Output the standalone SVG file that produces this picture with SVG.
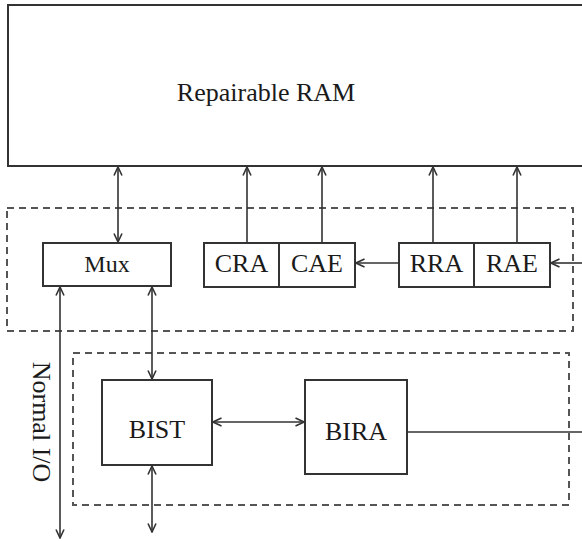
<svg xmlns="http://www.w3.org/2000/svg" width="582" height="541" viewBox="0 0 582 541">
<style>
.box{fill:#fff;stroke:#333;stroke-width:2}
.dash{fill:none;stroke:#555;stroke-width:2;stroke-dasharray:7,5}
.ln{fill:none;stroke:#333;stroke-width:1.6}
.t{font-family:"Liberation Serif","Times New Roman",serif;fill:#1a1a1a;text-anchor:middle}
</style>
<defs>
<marker id="ah" viewBox="0 0 10 10" refX="9.5" refY="5" markerWidth="10" markerHeight="10" markerUnits="userSpaceOnUse" orient="auto-start-reverse">
<path d="M1,1 L9.5,5 L1,9" fill="none" stroke="#333" stroke-width="1.6"/>
</marker>
</defs>
<g id="ram">
<rect class="box" x="8" y="5" width="590" height="161"/>
<text class="t" x="266" y="101" font-size="26">Repairable RAM</text>
</g>
<g id="outer-frame"><rect class="dash" x="7" y="208" width="566" height="123"/></g>
<g id="inner-frame"><rect class="dash" x="73" y="353" width="496" height="152"/></g>
<g id="mux">
<rect class="box" x="43" y="243" width="128" height="43"/>
<text class="t" x="107" y="272" font-size="24">Mux</text>
</g>
<g id="cra">
<rect class="box" x="204" y="243" width="75" height="44"/>
<text class="t" x="241.5" y="272" font-size="26">CRA</text>
</g>
<g id="cae">
<rect class="box" x="279" y="243" width="76" height="44"/>
<text class="t" x="317" y="272" font-size="26">CAE</text>
</g>
<g id="rra">
<rect class="box" x="399" y="243" width="75" height="44"/>
<text class="t" x="436.5" y="272" font-size="26">RRA</text>
</g>
<g id="rae">
<rect class="box" x="474" y="243" width="76" height="44"/>
<text class="t" x="512" y="272" font-size="26">RAE</text>
</g>
<g id="bist">
<rect class="box" x="102" y="380" width="110" height="85"/>
<text class="t" x="157" y="438" font-size="26">BIST</text>
</g>
<g id="bira">
<rect class="box" x="305" y="380" width="102" height="94"/>
<text class="t" x="356" y="440" font-size="26">BIRA</text>
</g>
<g id="normal-io-label">
<text class="t" transform="translate(33,422) rotate(90)" font-size="26">Normal I/O</text>
</g>
<g id="connectors">
<line class="ln" x1="118" y1="167" x2="118" y2="242" marker-start="url(#ah)" marker-end="url(#ah)"/>
<line class="ln" x1="247" y1="243" x2="247" y2="167" marker-end="url(#ah)"/>
<line class="ln" x1="322" y1="243" x2="322" y2="167" marker-end="url(#ah)"/>
<line class="ln" x1="433" y1="243" x2="433" y2="167" marker-end="url(#ah)"/>
<line class="ln" x1="517" y1="243" x2="517" y2="167" marker-end="url(#ah)"/>
<line class="ln" x1="399" y1="263" x2="356" y2="263" marker-end="url(#ah)"/>
<line class="ln" x1="582" y1="263" x2="551" y2="263" marker-end="url(#ah)"/>
<line class="ln" x1="60" y1="287" x2="60" y2="538" marker-start="url(#ah)" marker-end="url(#ah)"/>
<line class="ln" x1="152" y1="287" x2="152" y2="379" marker-start="url(#ah)" marker-end="url(#ah)"/>
<line class="ln" x1="152" y1="466" x2="152" y2="532" marker-start="url(#ah)" marker-end="url(#ah)"/>
<line class="ln" x1="213" y1="422" x2="304" y2="422" marker-start="url(#ah)" marker-end="url(#ah)"/>
<line class="ln" x1="407" y1="432" x2="582" y2="432"/>
</g>
</svg>
